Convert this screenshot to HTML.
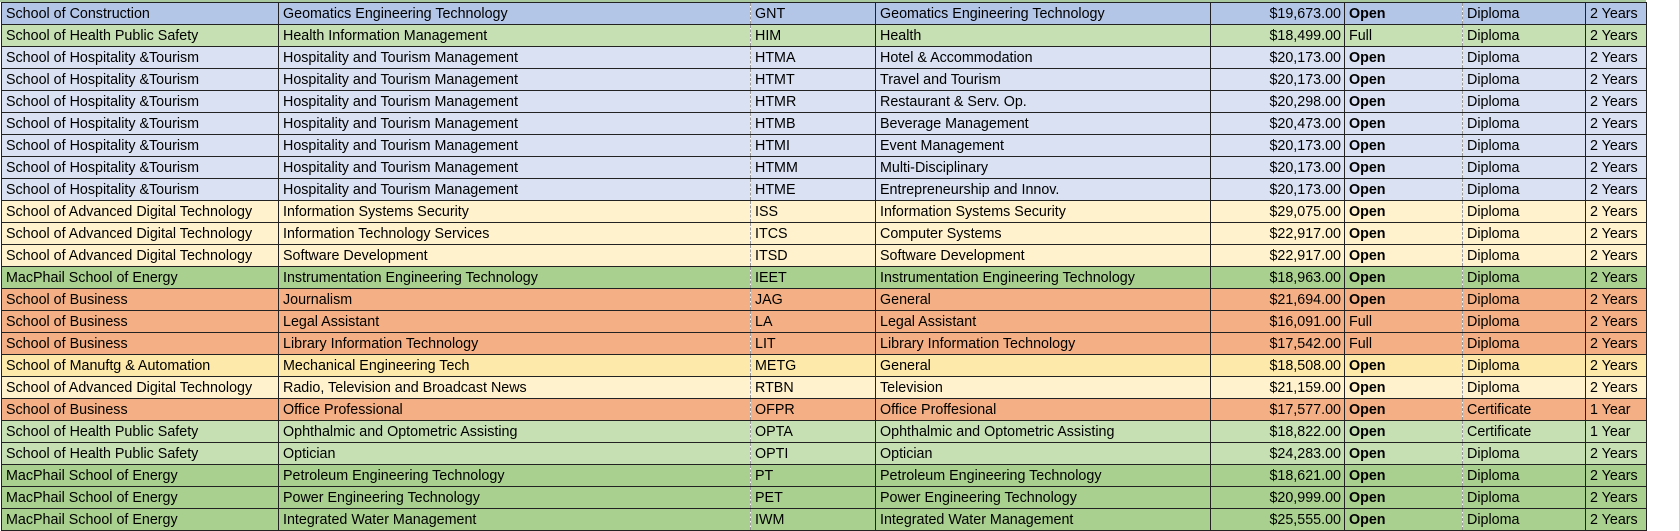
<!DOCTYPE html>
<html><head><meta charset="utf-8"><style>
html,body{margin:0;padding:0;background:#fff;width:1679px;height:530px;overflow:hidden}
table{position:absolute;left:1px;top:2px;border-collapse:collapse;table-layout:fixed;font-family:"Liberation Sans",sans-serif;font-size:14.3px;color:#000}
td{height:20px;padding:1px 0 0 4px;border:1px solid #222;white-space:nowrap;overflow:hidden;line-height:20px}
td.r{text-align:right;padding:1px 3px 0 0}
td.b{font-weight:bold}
td.d{border-right:1px dashed #999}
td:nth-child(3),td:nth-child(7){border-left:1px dashed #999}
.a{background:#b4c6e7}.g{background:#c6e0b4}.l{background:#d9e1f2}.y{background:#fff2cc}.G{background:#a9d08e}.o{background:#f4b084}.Y{background:#fde9a9}
tr.ds td{border-bottom:1px dashed #777}
</style></head><body>
<div style="position:absolute;left:0;top:0;width:1646px;height:2px;background:#a9c9a0"></div>
<table>
<colgroup><col style="width:277px"><col style="width:472px"><col style="width:125px"><col style="width:335px"><col style="width:134px"><col style="width:118px"><col style="width:123px"><col style="width:61px"></colgroup>
<tr class="a"><td>School of Construction</td><td class="d">Geomatics Engineering Technology</td><td>GNT</td><td>Geomatics Engineering Technology</td><td class="r">$19,673.00</td><td class="b d">Open</td><td>Diploma</td><td>2 Years</td></tr>
<tr class="g"><td>School of Health Public Safety</td><td class="d">Health Information Management</td><td>HIM</td><td>Health</td><td class="r">$18,499.00</td><td class="d">Full</td><td>Diploma</td><td>2 Years</td></tr>
<tr class="l"><td>School of Hospitality &amp;Tourism</td><td class="d">Hospitality and Tourism Management</td><td>HTMA</td><td>Hotel &amp; Accommodation</td><td class="r">$20,173.00</td><td class="b d">Open</td><td>Diploma</td><td>2 Years</td></tr>
<tr class="l"><td>School of Hospitality &amp;Tourism</td><td class="d">Hospitality and Tourism Management</td><td>HTMT</td><td>Travel and Tourism</td><td class="r">$20,173.00</td><td class="b d">Open</td><td>Diploma</td><td>2 Years</td></tr>
<tr class="l"><td>School of Hospitality &amp;Tourism</td><td class="d">Hospitality and Tourism Management</td><td>HTMR</td><td>Restaurant &amp; Serv. Op.</td><td class="r">$20,298.00</td><td class="b d">Open</td><td>Diploma</td><td>2 Years</td></tr>
<tr class="l"><td>School of Hospitality &amp;Tourism</td><td class="d">Hospitality and Tourism Management</td><td>HTMB</td><td>Beverage Management</td><td class="r">$20,473.00</td><td class="b d">Open</td><td>Diploma</td><td>2 Years</td></tr>
<tr class="l"><td>School of Hospitality &amp;Tourism</td><td class="d">Hospitality and Tourism Management</td><td>HTMI</td><td>Event Management</td><td class="r">$20,173.00</td><td class="b d">Open</td><td>Diploma</td><td>2 Years</td></tr>
<tr class="l"><td>School of Hospitality &amp;Tourism</td><td class="d">Hospitality and Tourism Management</td><td>HTMM</td><td>Multi-Disciplinary</td><td class="r">$20,173.00</td><td class="b d">Open</td><td>Diploma</td><td>2 Years</td></tr>
<tr class="l"><td>School of Hospitality &amp;Tourism</td><td class="d">Hospitality and Tourism Management</td><td>HTME</td><td>Entrepreneurship and Innov.</td><td class="r">$20,173.00</td><td class="b d">Open</td><td>Diploma</td><td>2 Years</td></tr>
<tr class="y"><td>School of Advanced Digital Technology</td><td class="d">Information Systems Security</td><td>ISS</td><td>Information Systems Security</td><td class="r">$29,075.00</td><td class="b d">Open</td><td>Diploma</td><td>2 Years</td></tr>
<tr class="y"><td>School of Advanced Digital Technology</td><td class="d">Information Technology Services</td><td>ITCS</td><td>Computer Systems</td><td class="r">$22,917.00</td><td class="b d">Open</td><td>Diploma</td><td>2 Years</td></tr>
<tr class="y"><td>School of Advanced Digital Technology</td><td class="d">Software Development</td><td>ITSD</td><td>Software Development</td><td class="r">$22,917.00</td><td class="b d">Open</td><td>Diploma</td><td>2 Years</td></tr>
<tr class="G"><td>MacPhail School of Energy</td><td class="d">Instrumentation Engineering Technology</td><td>IEET</td><td>Instrumentation Engineering Technology</td><td class="r">$18,963.00</td><td class="b d">Open</td><td>Diploma</td><td>2 Years</td></tr>
<tr class="o"><td>School of Business</td><td class="d">Journalism</td><td>JAG</td><td>General</td><td class="r">$21,694.00</td><td class="b d">Open</td><td>Diploma</td><td>2 Years</td></tr>
<tr class="o"><td>School of Business</td><td class="d">Legal Assistant</td><td>LA</td><td>Legal Assistant</td><td class="r">$16,091.00</td><td class="d">Full</td><td>Diploma</td><td>2 Years</td></tr>
<tr class="o"><td>School of Business</td><td class="d">Library Information Technology</td><td>LIT</td><td>Library Information Technology</td><td class="r">$17,542.00</td><td class="d">Full</td><td>Diploma</td><td>2 Years</td></tr>
<tr class="Y ds"><td>School of Manuftg &amp; Automation</td><td class="d">Mechanical Engineering Tech</td><td>METG</td><td>General</td><td class="r">$18,508.00</td><td class="b d">Open</td><td>Diploma</td><td>2 Years</td></tr>
<tr class="y"><td>School of Advanced Digital Technology</td><td class="d">Radio, Television and Broadcast News</td><td>RTBN</td><td>Television</td><td class="r">$21,159.00</td><td class="b d">Open</td><td>Diploma</td><td>2 Years</td></tr>
<tr class="o"><td>School of Business</td><td class="d">Office Professional</td><td>OFPR</td><td>Office Proffesional</td><td class="r">$17,577.00</td><td class="b d">Open</td><td>Certificate</td><td>1 Year</td></tr>
<tr class="g"><td>School of Health Public Safety</td><td class="d">Ophthalmic and Optometric Assisting</td><td>OPTA</td><td>Ophthalmic and Optometric Assisting</td><td class="r">$18,822.00</td><td class="b d">Open</td><td>Certificate</td><td>1 Year</td></tr>
<tr class="g"><td>School of Health Public Safety</td><td class="d">Optician</td><td>OPTI</td><td>Optician</td><td class="r">$24,283.00</td><td class="b d">Open</td><td>Diploma</td><td>2 Years</td></tr>
<tr class="G"><td>MacPhail School of Energy</td><td class="d">Petroleum Engineering Technology</td><td>PT</td><td>Petroleum Engineering Technology</td><td class="r">$18,621.00</td><td class="b d">Open</td><td>Diploma</td><td>2 Years</td></tr>
<tr class="G"><td>MacPhail School of Energy</td><td class="d">Power Engineering Technology</td><td>PET</td><td>Power Engineering Technology</td><td class="r">$20,999.00</td><td class="b d">Open</td><td>Diploma</td><td>2 Years</td></tr>
<tr class="G"><td>MacPhail School of Energy</td><td class="d">Integrated Water Management</td><td>IWM</td><td>Integrated Water Management</td><td class="r">$25,555.00</td><td class="b d">Open</td><td>Diploma</td><td>2 Years</td></tr>
</table>
</body></html>
